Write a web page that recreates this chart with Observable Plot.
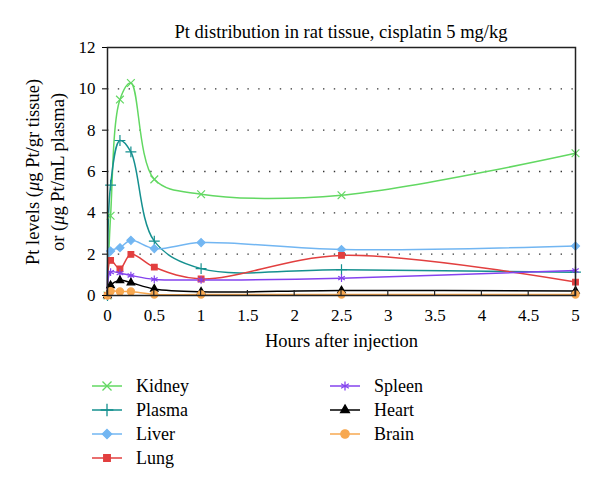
<!DOCTYPE html>
<html>
<head>
<meta charset="utf-8">
<script src="https://cdn.jsdelivr.net/npm/d3@7"></script>
<script src="https://cdn.jsdelivr.net/npm/@observablehq/plot@0.6"></script>
<style>
  body { margin: 0; background: #fff; font-family: "Liberation Serif", "DejaVu Serif", serif; }
  #wrap { position: relative; width: 600px; height: 488px; overflow: hidden; background: #fff; }
  #title { position: absolute; z-index: 2; left: 57px; width: 568px; top: 22px; line-height: 20px; font-size: 18.5px; text-align: center; color: #000; white-space: nowrap; }
  #chart { position: absolute; z-index: 1; left: 0; top: 37px; }
  #legend { position: absolute; left: 0; top: 360px; }
  svg text { font-family: "Liberation Serif", "DejaVu Serif", serif; }
</style>
</head>
<body>
<div id="wrap">
  <div id="chart"></div>
  <div id="title">Pt distribution in rat tissue, cisplatin 5 mg/kg</div>
  <div id="legend"></div>
</div>
<script>
// ---- data ----
const hours  = [0, 0.033, 0.133, 0.25, 0.5, 1, 2.5, 5];
const kidney = [0, 3.86, 9.48, 10.28, 5.62, 4.90, 4.85, 6.88];
const plasma = [0, 5.34, 7.50, 6.95, 2.63, 1.30, 1.25, 1.13];
const liver  = [0, 2.15, 2.31, 2.67, 2.27, 2.56, 2.22, 2.39];
const lung   = [0, 1.70, 1.29, 1.99, 1.37, 0.80, 1.94, 0.65];
const spleen = [0, 1.13, 1.08, 0.97, 0.78, 0.75, 0.84, 1.21];
const heart  = [0, 0.49, 0.73, 0.62, 0.32, 0.18, 0.24, 0.22];
const brain  = [0, 0.21, 0.19, 0.19, 0.05, 0.05, 0.05, 0.05];

const seriesNames = ["Kidney", "Plasma", "Liver", "Lung", "Spleen", "Heart", "Brain"];
const seriesColors = ["#62d862", "#15908f", "#72b6f2", "#e23f3f", "#8443ee", "#000000", "#f7a850"];
const seriesSymbols = ["times", "plus", "diamond2", "square2", "asterisk", "triangle2", "circle"];
const xTicks = [0, 0.5, 1, 1.5, 2, 2.5, 3, 3.5, 4, 4.5, 5];
const yTicks = [0, 2, 4, 6, 8, 10, 12];
const gridTicks = [2, 4, 6, 8, 10];
const xLabel = "Hours after injection";

const values = [kidney, plasma, liver, lung, spleen, heart, brain];
const data = seriesNames.flatMap((s, i) => hours.map((h, j) => ({series: s, hours: h, value: values[i][j]})));

const font = '"Liberation Serif", "DejaVu Serif", serif';

const plot = Plot.plot({
  width: 600,
  height: 323,
  marginTop: 10,
  marginLeft: 107,
  marginRight: 25,
  marginBottom: 65,
  style: {fontFamily: font, fontSize: "17px", color: "#000", background: "transparent", overflow: "visible"},
  x: {domain: [0, 5]},
  y: {domain: [0, 12]},
  color: {domain: seriesNames, range: seriesColors},
  symbol: {domain: seriesNames, range: seriesSymbols},
  marks: [
    Plot.gridY(gridTicks, {stroke: "#333", strokeOpacity: 1, strokeWidth: 1.4, strokeDasharray: "1.4,9.4"}),
    Plot.line(data, {x: "hours", y: "value", z: "series", stroke: "series", strokeWidth: 1.5, curve: "catmull-rom"}),
    Plot.dot(data, {x: "hours", y: "value", symbol: "series", stroke: "series", fill: "series", r: 3.6, strokeWidth: 1.2}),
    Plot.axisY({ticks: yTicks, tickSize: 5, tickPadding: 7, label: null, tickFormat: d => String(d)}),
    Plot.axisX({ticks: xTicks, tickSize: 0, tickPadding: 13, label: null, tickFormat: d => String(d)}),
    Plot.frame({stroke: "#222", strokeWidth: 1.5}),
    Plot.text([xLabel], {frameAnchor: "bottom", dy: 51, fontSize: 18.5})
  ]
});
document.getElementById("chart").appendChild(plot);

const svg = d3.select(plot);
const xs = plot.scale("x");
const ys = plot.scale("y");
// inward x ticks
svg.append("g").attr("stroke", "#222").attr("stroke-width", 1.2)
  .selectAll("line").data(xTicks).join("line")
  .attr("x1", d => xs.apply(d)).attr("x2", d => xs.apply(d))
  .attr("y1", ys.apply(0)).attr("y2", ys.apply(0) - 5);

// y-axis label with italic mu
function yLabel(x, parts) {
  const t = svg.append("text")
    .attr("transform", `translate(${x},135) rotate(-90)`)
    .attr("text-anchor", "middle").attr("dy", "0.35em")
    .style("font-family", font).style("font-size", "18.5px").attr("fill", "#000");
  parts.forEach(([s, it]) => t.append("tspan").style("font-style", it ? "italic" : "normal").text(s));
}
yLabel(33, [["Pt levels (", false], ["μ", true], ["g Pt/gr tissue)", false]]);
yLabel(57.5, [["or (", false], ["μ", true], ["g Pt/mL plasma)", false]]);

// legend
const symMap = {
  times: d3.symbolTimes, plus: d3.symbolPlus, diamond2: d3.symbolDiamond2,
  square2: d3.symbolSquare2, asterisk: d3.symbolAsterisk, triangle2: d3.symbolTriangle2, circle: d3.symbolCircle
};
const strokeSyms = new Set(["times", "plus", "asterisk"]);
const leg = d3.select("#legend").append("svg").attr("width", 600).attr("height", 128)
  .style("font-family", font).style("font-size", "18px");
seriesNames.forEach((name, i) => {
  const col = i < 4 ? 0 : 1;
  const row = i < 4 ? i : i - 4;
  const x0 = col === 0 ? 92 : 330;
  const y0 = 26 + row * 24;
  const g = leg.append("g").attr("transform", `translate(${x0},${y0})`);
  g.append("line").attr("x1", 0).attr("x2", 30).attr("y1", 0).attr("y2", 0)
    .attr("stroke", seriesColors[i]).attr("stroke-width", 1.5);
  const sym = seriesSymbols[i];
  g.append("path").attr("transform", "translate(15,0)")
    .attr("d", d3.symbol(symMap[sym], 55)())
    .attr("fill", strokeSyms.has(sym) ? "none" : seriesColors[i])
    .attr("stroke", seriesColors[i]).attr("stroke-width", 1.3);
  g.append("text").attr("x", 44).attr("y", 0).attr("dy", "0.35em").attr("fill", "#000")
    .style("font-family", font).text(name);
});
</script>
</body>
</html>
